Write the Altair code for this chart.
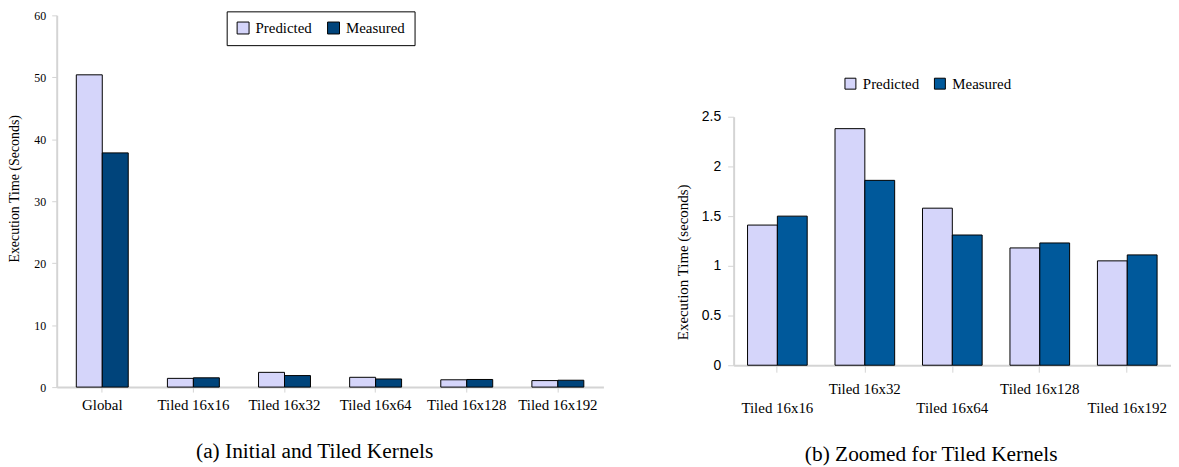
import altair as alt
import pandas as pd

# ---- data ----
series = ["Predicted", "Measured"]

kernels_a = ["Global", "Tiled 16x16", "Tiled 16x32", "Tiled 16x64", "Tiled 16x128", "Tiled 16x192"]
predicted_a = [50.4, 1.41, 2.38, 1.58, 1.18, 1.05]
measured_a = [37.8, 1.50, 1.86, 1.31, 1.23, 1.11]

kernels_b = ["Tiled 16x16", "Tiled 16x32", "Tiled 16x64", "Tiled 16x128", "Tiled 16x192"]
predicted_b = [1.41, 2.38, 1.58, 1.18, 1.05]
measured_b = [1.50, 1.86, 1.31, 1.23, 1.11]

y_ticks_a = [0, 10, 20, 30, 40, 50, 60]
y_ticks_b = [0, 0.5, 1, 1.5, 2, 2.5]
lower_row_b = ["Tiled 16x16", "Tiled 16x64", "Tiled 16x192"]

title_a = "(a)  Initial and Tiled Kernels"
title_b = "(b)  Zoomed for Tiled Kernels"
y_title_a = "Execution Time (Seconds)"
y_title_b = "Execution Time (seconds)"


def long_df(kernels, pred, meas):
    rows = []
    for k, p, m in zip(kernels, pred, meas):
        rows.append({"Kernel": k, "Series": "Predicted", "Time": p})
        rows.append({"Kernel": k, "Series": "Measured", "Time": m})
    return pd.DataFrame(rows)


df_a = long_df(kernels_a, predicted_a, measured_a)
df_b = long_df(kernels_b, predicted_b, measured_b)

SERIF = "Liberation Serif"
SANS = "Liberation Sans"
AXIS_GRAY = "#d4d4d4"
PRED = "#d5d5fa"
MEAS_A = "#00447b"
MEAS_B = "#00599b"

# ---- panel (a) ----
chart_a = alt.Chart(df_a).mark_bar(stroke="black", strokeWidth=1).encode(
    x=alt.X(
        "Kernel:N",
        sort=kernels_a,
        scale=alt.Scale(paddingInner=0.43, paddingOuter=0.215),
        axis=alt.Axis(
            title=None, labelAngle=0, labelFont=SERIF, labelFontSize=15,
            labelColor="black", domainColor=AXIS_GRAY, domainWidth=2,
            tickColor=AXIS_GRAY, tickSize=5, labelPadding=6, labelOverlap=False,
        ),
    ),
    xOffset=alt.XOffset("Series:N", sort=series, scale=alt.Scale(paddingInner=0, paddingOuter=0)),
    y=alt.Y(
        "Time:Q",
        scale=alt.Scale(domain=[0, 60]),
        axis=alt.Axis(
            values=y_ticks_a, title=y_title_a, grid=False,
            labelFont=SERIF, labelFontSize=12, labelColor="black",
            titleFont=SERIF, titleFontSize=14, titleFontWeight="normal",
            titleColor="black", titlePadding=12, titleY=174,
            domainColor=AXIS_GRAY, domainWidth=2, tickColor=AXIS_GRAY,
            tickSize=5, labelPadding=6,
        ),
    ),
    color=alt.Color(
        "Series:N",
        sort=series,
        scale=alt.Scale(domain=series, range=[PRED, MEAS_A]),
        legend=alt.Legend(
            title=None, orient="none", legendX=171, legendY=-4,
            direction="horizontal", strokeColor="black", fillColor="white",
            padding=9, symbolType="square", symbolSize=144,
            symbolStrokeColor="black", symbolStrokeWidth=1,
            labelFont=SERIF, labelFontSize=15, labelColor="black",
            labelOffset=5, columnPadding=13,
        ),
    ),
).properties(
    width=550,
    height=374,
    title=alt.Title(title_a, orient="bottom", frame="bounds", anchor="middle",
                    font=SERIF, fontSize=21.5, fontWeight="normal", color="black",
                    offset=28, dx=9),
)

# ---- panel (b) ----
label_expr_b = (
    "indexof(" + str(lower_row_b) + ", datum.value) >= 0 ? ['', datum.label] : datum.label"
)

chart_b = alt.Chart(df_b).mark_bar(stroke="black", strokeWidth=1).encode(
    x=alt.X(
        "Kernel:N",
        sort=kernels_b,
        scale=alt.Scale(paddingInner=0.318, paddingOuter=0.159),
        axis=alt.Axis(
            title=None, labelAngle=0, labelFont=SERIF, labelFontSize=15,
            labelColor="black", domainColor=AXIS_GRAY, domainWidth=2,
            tickColor=AXIS_GRAY, tickSize=7, labelPadding=9, labelOverlap=False,
            labelExpr=label_expr_b, labelLineHeight=20,
        ),
    ),
    xOffset=alt.XOffset("Series:N", sort=series, scale=alt.Scale(paddingInner=0, paddingOuter=0)),
    y=alt.Y(
        "Time:Q",
        scale=alt.Scale(domain=[0, 2.5], range=[352, 102]),
        axis=alt.Axis(
            values=y_ticks_b, format="~g", title=y_title_b, grid=False,
            labelFont=SANS, labelFontSize=14, labelColor="black",
            titleFont=SERIF, titleFontSize=15, titleFontWeight="normal",
            titleColor="black", titlePadding=11, titleY=248,
            domainColor=AXIS_GRAY, domainWidth=2, tickColor=AXIS_GRAY,
            tickSize=6, labelPadding=7,
        ),
    ),
    color=alt.Color(
        "Series:N",
        sort=series,
        scale=alt.Scale(domain=series, range=[PRED, MEAS_B]),
        legend=alt.Legend(
            title=None, orient="none", legendX=110, legendY=61,
            direction="horizontal", padding=0, symbolType="square",
            symbolSize=121, symbolStrokeColor="black", symbolStrokeWidth=1,
            labelFont=SERIF, labelFontSize=15, labelColor="black",
            labelOffset=5, columnPadding=13,
        ),
    ),
).properties(
    width=440,
    height=352,
    title=alt.Title(title_b, orient="bottom", frame="bounds", anchor="middle",
                    font=SERIF, fontSize=21.5, fontWeight="normal", color="black",
                    offset=28, dx=8),
)

chart = (
    alt.hconcat(chart_a, chart_b, spacing=131, bounds="flush")
    .resolve_scale(color="independent", x="independent", y="independent", xOffset="independent")
    .resolve_legend(color="independent")
    .properties(padding=0, background="white")
    .configure_view(stroke=None)
)

chart.save("out.html", embed_options={"renderer": "svg", "actions": False})
